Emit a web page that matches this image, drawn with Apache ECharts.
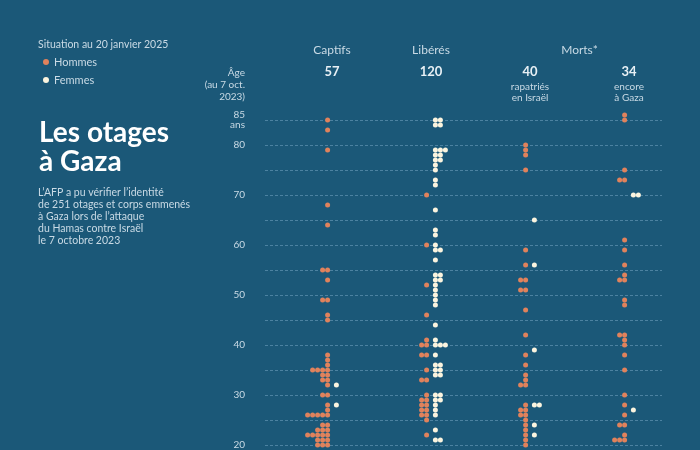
<!DOCTYPE html>
<html>
<head>
<meta charset="utf-8">
<script src="https://cdn.jsdelivr.net/npm/echarts@6/dist/echarts.min.js"></script>
<style>
html,body{margin:0;padding:0;background:#1b5878;}
#chart{width:700px;height:450px;}
</style>
</head>
<body>
<div id="chart"></div>
<script>
// ---- data (ages at 7 Oct 2023, one entry per person visible on the chart) ----
const columns = ['Captifs', 'Libérés', 'rapatriés en Israël', 'encore à Gaza'];
const columnTotals = [57, 120, 40, 34];

const captifsMen = [85,83,79,68,64,55,55,53,49,49,46,45,38,37,36,35,35,35,35,34,34,33,33,32,30,30,28,27,26,26,26,26,26,24,24,23,23,23,22,22,22,22,22,21,21,21,20,20,20];
const captifsWomen = [32,28];

const liberesMen = [70,60,52,46,41,40,40,38,38,35,33,33,30,29,29,28,28,27,27,26,26,25,22];
const liberesWomen = [85,85,84,84,79,79,79,78,78,77,77,76,75,73,72,67,63,62,60,59,59,57,54,54,53,53,52,51,50,49,48,44,41,40,40,40,38,36,36,35,35,34,34,30,30,29,29,28,27,26,23,21,21];

const rapatriesMen = [80,79,78,75,59,56,53,53,51,51,47,42,38,36,34,33,32,32,28,27,27,26,26,25,24,23,22,21,20];
const rapatriesWomen = [65,56,39,28,28,24,22];

const gazaMen = [86,85,75,73,73,61,59,56,54,53,53,49,48,42,42,41,40,38,35,30,28,26,24,24,22,21,21,21];
const gazaWomen = [70,70,27];

const yTicks = [20,30,40,50,60,70,80,85];

// ---- layout ----
const colX = [67, 166, 265, 364];      // column axis positions (x units = px inside grid)
const DOT0 = 4.4, STEP = 5;

function swarm(ages, center, dir) {
  const cnt = {};
  return ages.map(a => {
    const k = cnt[a] || 0; cnt[a] = k + 1;
    return [center + dir * (DOT0 + STEP * k), a];
  });
}
const menData = [].concat(
  swarm(captifsMen, colX[0], -1), swarm(liberesMen, colX[1], -1),
  swarm(rapatriesMen, colX[2], -1), swarm(gazaMen, colX[3], -1));
const womenData = [].concat(
  swarm(captifsWomen, colX[0], 1), swarm(liberesWomen, colX[1], 1),
  swarm(rapatriesWomen, colX[2], 1), swarm(gazaWomen, colX[3], 1));

const LIGHT = '#c9dae5';
const FONT = 'Lato, "Open Sans", sans-serif';
const ORANGE = '#e0825c', CREAM = '#fbf4df';

function txt(text, x, y, size, opts) {
  opts = opts || {};
  return {
    type: 'text', silent: true,
    style: {
      text: text, x: x, y: y,
      fill: opts.fill || LIGHT,
      font: (opts.bold ? 'bold ' : '') + size + 'px ' + FONT,
      align: opts.align || 'left',
      verticalAlign: 'middle'
    }
  };
}

const graphics = [
  txt('Situation au 20 janvier 2025', 38, 45, 10.5),
  txt('Les otages', 39, 133, 28, {bold: true, fill: '#ffffff'}),
  txt('à Gaza', 39, 162, 28, {bold: true, fill: '#ffffff'}),
  txt('L\u2019AFP a pu vérifier l\u2019identité', 38, 193, 10.5),
  txt('de 251 otages et corps emmenés', 38, 205, 10.5),
  txt('à Gaza lors de l\u2019attaque', 38, 217, 10.5),
  txt('du Hamas contre Israël', 38, 229, 10.5),
  txt('le 7 octobre 2023', 38, 241, 10.5),
  txt('Âge', 245, 73, 10, {align: 'right'}),
  txt('(au 7 oct.', 245, 85, 10, {align: 'right'}),
  txt('2023)', 245, 97, 10, {align: 'right'}),
  txt('Captifs', 265 + colX[0], 50, 12, {align: 'center'}),
  txt('Libérés', 265 + colX[1], 50, 12, {align: 'center'}),
  txt('Morts*', 265 + (colX[2] + colX[3]) / 2, 50, 12, {align: 'center'}),
  txt('rapatriés', 265 + colX[2], 87, 10, {align: 'center'}),
  txt('en Israël', 265 + colX[2], 98, 10, {align: 'center'}),
  txt('encore', 265 + colX[3], 87, 10, {align: 'center'}),
  txt('à Gaza', 265 + colX[3], 98, 10, {align: 'center'})
];
columnTotals.forEach((t, i) => {
  graphics.push(txt(String(t), 265 + colX[i], 72, 13, {align: 'center', bold: true, fill: '#e8f0f5'}));
});

const chart = echarts.init(document.getElementById('chart'));
chart.setOption({
  backgroundColor: '#1b5878',
  animation: false,
  grid: {left: 265, right: 38, top: 120, bottom: 3},
  legend: {
    orient: 'vertical', left: 38, top: 51,
    itemWidth: 6, itemHeight: 6, itemGap: 6,
    icon: 'circle',
    textStyle: {color: LIGHT, fontSize: 11, fontFamily: FONT, lineHeight: 12},
    data: ['Hommes', 'Femmes']
  },
  xAxis: {
    type: 'value', min: 0, max: 397,
    show: false
  },
  yAxis: {
    type: 'value', min: 20, max: 85, interval: 5,
    axisLine: {show: false}, axisTick: {show: false},
    axisLabel: {
      color: LIGHT, fontSize: 10, fontFamily: FONT, margin: 20, lineHeight: 10,
      formatter: v => v === 85 ? '85\nans' : (yTicks.indexOf(v) >= 0 ? String(v) : '')
    },
    splitLine: {lineStyle: {color: 'rgba(150,195,222,0.4)', width: 1, type: [3, 2]}}
  },
  graphic: graphics,
  series: [
    {
      name: 'Hommes', type: 'scatter', data: menData, symbolSize: 5, clip: false,
      itemStyle: {color: ORANGE, opacity: 1},
      markLine: {
        silent: true, symbol: 'none', label: {show: false},
        lineStyle: {color: 'rgba(150,195,222,0.45)', type: 'solid', width: 1},
        data: colX.map(x => [{coord: [x, 20]}, {coord: [x, 86.8]}])
      },
      z: 3
    },
    {
      name: 'Femmes', type: 'scatter', data: womenData, symbolSize: 5, clip: false,
      itemStyle: {color: CREAM, opacity: 1},
      z: 3
    }
  ]
});
</script>
</body>
</html>
